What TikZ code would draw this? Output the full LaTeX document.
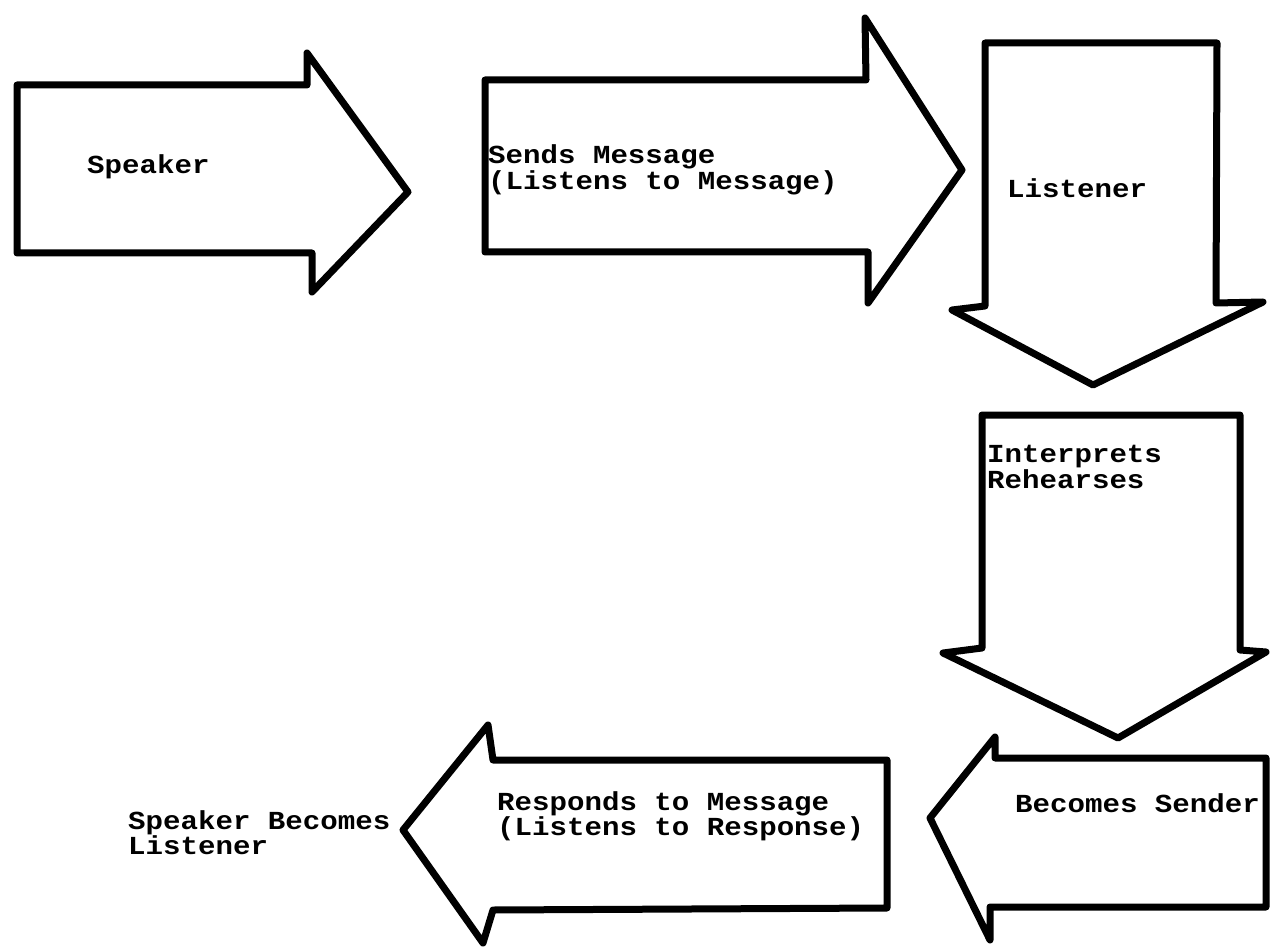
\documentclass[tikz,border=0pt]{standalone}
\usepackage{fontspec}
\newfontfamily\typewriter[FakeStretch=1.12]{Liberation Mono}
\begin{document}
\begin{tikzpicture}[x=1pt,y=-1pt]
\tikzset{
  blockarrow/.style={draw=black, line width=7pt, line join=round, fill=white},
  twtext/.style={font=\typewriter\bfseries\fontsize{26}{22}\selectfont,
                 align=left, inner sep=0pt, anchor=west}
}
\useasboundingbox[fill=white] (0,0) rectangle (1271,949);

% right-pointing arrows along the top row
\draw[blockarrow] (17,85) -- (307,85) -- (307,53) -- (408,192) -- (312,292)
  -- (312,253) -- (17,253) -- cycle;
\draw[blockarrow] (485,80) -- (866,80) -- (865,18) -- (962,170) -- (868,303)
  -- (868,252) -- (485,252) -- cycle;

% downward arrows on the right
\draw[blockarrow] (985,43) -- (1217,43) -- (1216,303) -- (1263,302) -- (1093,385)
  -- (952,310) -- (985,306) -- cycle;
\draw[blockarrow] (982,415) -- (1240,415) -- (1240,650) -- (1266,652) -- (1118,738)
  -- (943,653) -- (982,648) -- cycle;

% left-pointing arrows along the bottom row
\draw[blockarrow] (1266,758) -- (1266,907) -- (990,907) -- (990,940) -- (930,818)
  -- (995,737) -- (995,758) -- cycle;
\draw[blockarrow] (887,760) -- (887,908) -- (493,910) -- (483,943) -- (403,830)
  -- (488,725) -- (493,760) -- cycle;

% labels
\node[twtext] (speaker) at (87,167) {Speaker};
\node[twtext] (sends) at (488,170) {Sends Message\\(Listens to Message)};
\node[twtext] (listener) at (1007,188) {Listener};
\node[twtext] (interprets) at (987,467) {Interprets\\Rehearses};
\node[twtext] (sender) at (1015,803) {Becomes Sender};
\node[twtext] (responds) at (497,816) {Responds to Message\\(Listens to Response)};
\node[twtext] (final) at (128,833) {Speaker Becomes\\Listener};
\end{tikzpicture}
\end{document}
